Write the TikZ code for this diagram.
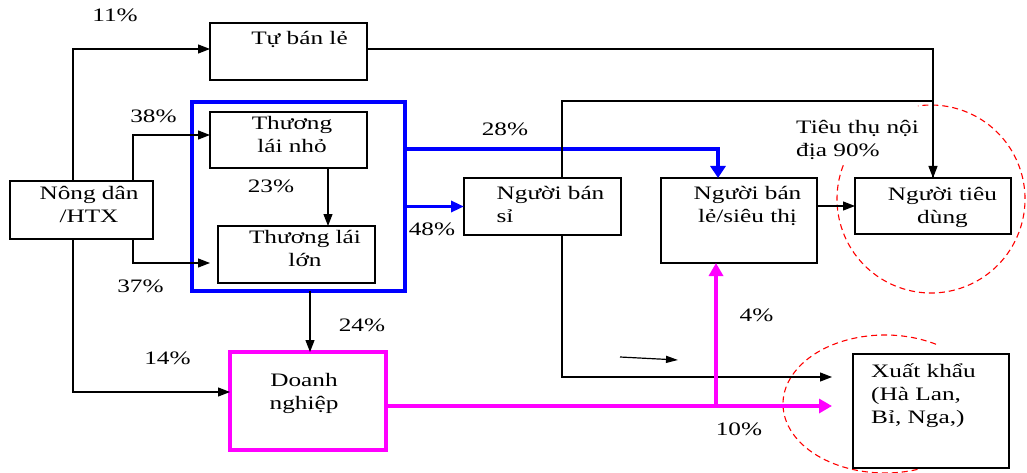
\documentclass[tikz,border=0pt]{standalone}
\usepackage{fontspec}
\setmainfont[FakeStretch=1.33]{Liberation Serif}
\usepackage{xcolor}
\usetikzlibrary{arrows.meta}
\usetikzlibrary{positioning}
\usetikzlibrary{calc}

\definecolor{blueline}{RGB}{0,0,255}
\definecolor{pinkline}{RGB}{255,0,255}
\definecolor{reddash}{RGB}{255,0,0}

\tikzset{
	box/.style={draw, line width=1.3pt, fill=white, inner sep=0pt, outer sep=0pt},
	txt/.style={inner sep=0pt, align=center},
	pct/.style={inner sep=0pt, anchor=base},
	arr/.style={line width=1.2pt, -{Triangle[length=12pt,width=9pt]}},
	bluearr/.style={blueline, line width=4pt, -{Triangle[length=12pt,width=15pt]}},
	pinkarr/.style={pinkline, line width=4.5pt, -{Triangle[length=13pt,width=14pt]}},
	zone/.style={reddash, line width=1.1pt, dash pattern=on 6pt off 4pt}
}

\begin{document}
\begin{tikzpicture}[x=1pt, y=-1pt, every node/.style={font=\fontsize{19pt}{23pt}\selectfont}]
	\useasboundingbox (0,0) rectangle (1027,473);

	%circles
	\draw[zone] (931,199) ++(159:94pt) arc[start angle=159, end angle=458, radius=94pt];
	\draw[zone] (885,404) ++(60:102pt and 69pt) arc[start angle=60, end angle=295, x radius=102pt, y radius=69pt];

	% traders group
	\node[draw=blueline, line width=4pt, minimum width=213pt, minimum height=189pt, inner sep=0pt, outer sep=0pt] (trader) at (298.5,196.5) {};

	% boxes
	\node[box, minimum width=143pt, minimum height=58pt] (farmer) at (81.5,210) {};
	\node[box, minimum width=157pt, minimum height=57pt] (selfsell) at (288.5,51.5) {};
	\node[box, minimum width=157pt, minimum height=56pt] (small) at (288.5,140) {};
	\node[box, minimum width=157pt, minimum height=57pt] (large) at (296.5,254.5) {};
	\node[box, minimum width=157pt, minimum height=57pt] (wholesale) at (542.5,206.5) {};
	\node[box, minimum width=156pt, minimum height=85pt] (retail) at (739,220.5) {};
	\node[box, minimum width=156pt, minimum height=56pt] (consumer) at (933,206) {};
	\node[box, draw=pinkline, line width=4.5pt, minimum width=156pt, minimum height=98pt] (firm) at (308,401) {};
	\node[box, minimum width=156pt, minimum height=114pt] (export) at (931,411) {};

	% texts
	\node[txt] (farmer-t) at (89,204) {Nông dân\\/HTX};
	\node[pct] (selfsell-t) at (299.5,45) {Tự bán lẻ};
	\node[txt] (small-t) at (292,135) {Thương\\lái nhỏ};
	\node[txt] (large-t) at (305,248.5) {Thương lái\\lớn};
	\node[txt, align=left] (wholesale-t) at (550.5,204.5) {Người bán\\sỉ};
	\node[txt] (retail-t) at (747.5,206) {Người bán\\lẻ/siêu thị};
	\node[txt] (consumer-t) at (942.5,207) {Người tiêu\\dùng};
	\node[txt] (firm-t) at (304,393.5) {Doanh\\nghiệp};
	\node[txt, align=left] (export-t) at (923.5,396) {Xuất khẩu\\(Hà Lan,\\Bỉ, Nga,)};
	\node[txt, align=left] (domestic) at (857.5,139.5) {Tiêu thụ nội\\địa 90\%};

	% flows
	\draw[arr] ([xshift=-8.5pt]farmer.north) |- ([yshift=2.5pt]selfsell.west);
	\draw[arr] ([xshift=51.5pt]farmer.north) |- ([yshift=5pt]small.west);
	\draw[arr, shorten >=8pt] ([xshift=51.5pt]farmer.south) |- ([yshift=-8.5pt]large.west);
	\draw[arr] ([xshift=-8.5pt]farmer.south) |- ([yshift=9pt]firm.west);
	\draw[arr] ([xshift=39.5pt]small.south) -- ([xshift=39.5pt]small.south |- large.north);
	\draw[arr] ([xshift=11.5pt]trader.south) -- ([xshift=11.5pt]trader.south |- firm.north);
	\draw[bluearr, line width=3.2pt, -{Triangle[length=13pt,width=11pt]}] (trader.east |- wholesale.west) -- (wholesale.west);
	\draw[bluearr] ([yshift=47.5pt]trader.east) -| ([xshift=-21pt]retail.north);
	\draw[line width=1.2pt] ([xshift=19.5pt]wholesale.north) -- ++(0,-77) -| (consumer.north);
	\draw[arr] ([yshift=2.5pt]selfsell.east) -| (consumer.north);
	\draw[arr] (retail.east |- consumer.west) -- (consumer.west);
	\draw[arr, shorten >=21pt] ([xshift=19.5pt]wholesale.south) |- ([yshift=34pt]export.west);

	\coordinate (split) at (716,406);
	\draw[pinkarr, -] (firm.east |- split) -- (split);
	\draw[pinkarr, shorten >=21pt] (split) -- (split -| export.west);
	\draw[pinkarr] (split) -- (split |- retail.south);

	% loose arrow
	\coordinate (loose-a) at (620,357);
	\coordinate (loose-b) at (678,360);
	\draw[arr, -{Triangle[length=12pt,width=7pt]}] (loose-a) -- (loose-b);

	% shares
	\node[pct] (p11) at (115,22) {11\%};
	\node[pct] (p38) at (153.5,122.7) {38\%};
	\node[pct] (p23) at (271,193) {23\%};
	\node[pct] (p37) at (140.5,292.5) {37\%};
	\node[pct] (p24) at (362,331) {24\%};
	\node[pct] (p14) at (167.5,364) {14\%};
	\node[pct] (p28) at (505,135.7) {28\%};
	\node[pct] (p48) at (432,235.7) {48\%};
	\node[pct] (p4) at (756.5,321.7) {4\%};
	\node[pct] (p10) at (739,435.7) {10\%};
\end{tikzpicture}
\end{document}
